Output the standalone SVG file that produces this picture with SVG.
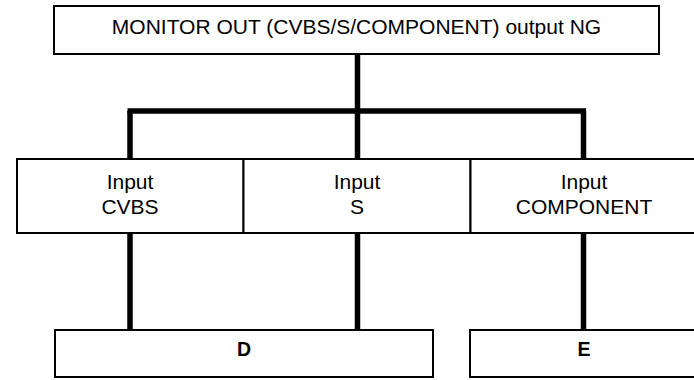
<svg xmlns="http://www.w3.org/2000/svg" width="694" height="380" viewBox="0 0 694 380">
<style>
.box{fill:#fff;stroke:#000;stroke-width:2}
.wire{fill:none;stroke:#000;stroke-width:5.5;stroke-linecap:butt}
.t{font-family:"Liberation Sans",Arial,sans-serif;font-size:21px;fill:#000;text-anchor:middle}
.b{font-family:"Liberation Sans",Arial,sans-serif;font-size:19.5px;font-weight:bold;fill:#000;text-anchor:middle}
</style>
<rect width="694" height="380" fill="#fff"/>
<g id="connectors">
<path class="wire" d="M357.5 54 V111"/>
<path class="wire" d="M127.5 111 H586"/>
<path class="wire" d="M130 111 V159 M357.5 111 V159 M583.5 111 V159"/>
<path class="wire" d="M130 233 V330 M357.5 233 V330 M583.5 233 V330"/>
</g>
<g id="monitor-out">
<rect class="box" x="54" y="6" width="605" height="48"/>
<text class="t" x="356.5" y="34">MONITOR OUT (CVBS/S/COMPONENT) output NG</text>
</g>
<g id="input-cvbs">
<rect class="box" x="17" y="159" width="226.5" height="74"/>
<text class="t" x="130" y="189">Input</text>
<text class="t" x="130" y="214">CVBS</text>
</g>
<g id="input-s">
<rect class="box" x="243.5" y="159" width="227" height="74"/>
<text class="t" x="357" y="189">Input</text>
<text class="t" x="357" y="214">S</text>
</g>
<g id="input-component">
<rect class="box" x="470.5" y="159" width="226" height="74"/>
<text class="t" x="584" y="189">Input</text>
<text class="t" x="584" y="214">COMPONENT</text>
</g>
<g id="node-d">
<rect class="box" x="55" y="330" width="378" height="47"/>
<text class="b" x="244" y="356">D</text>
</g>
<g id="node-e">
<rect class="box" x="470" y="330" width="226" height="47"/>
<text class="b" x="584" y="356">E</text>
</g>
</svg>
